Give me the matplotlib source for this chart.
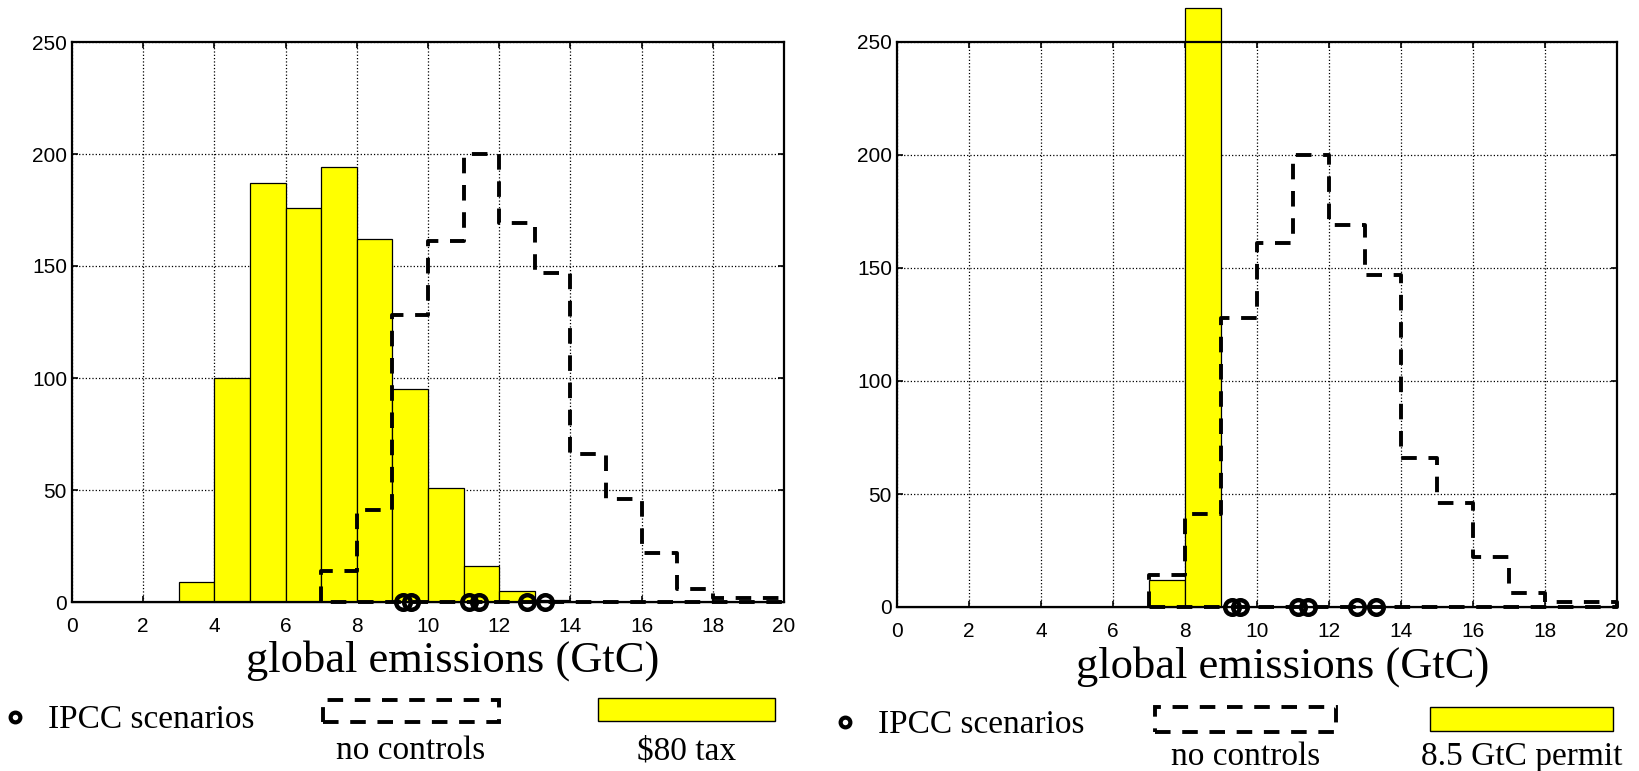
import numpy as np
import matplotlib
matplotlib.use("Agg")
import matplotlib.pyplot as plt
from matplotlib.lines import Line2D
from matplotlib.patches import Rectangle

# Histogram bin edges (GtC), one-unit bins
edges = np.arange(0, 21)

# Counts per bin under a $80 carbon tax
tax_counts = [0, 0, 0, 9, 100, 187, 176, 194, 162, 95, 51, 16, 5, 1, 0, 0, 0, 0, 0, 0]

# Counts per bin under an 8.5 GtC emissions permit
permit_counts = [0, 0, 0, 0, 0, 0, 0, 12, 265, 0, 0, 0, 0, 0, 0, 0, 0, 0, 0, 0]

# Counts per bin with no controls (bins 7..20)
nc_edges = np.arange(7, 21)
nc_counts = [14, 41, 128, 161, 200, 169, 147, 66, 46, 22, 6, 2, 2]

# IPCC scenario emissions (GtC)
ipcc = [9.3, 9.52, 11.15, 11.43, 12.77, 13.3]

W, H = 1639, 771
fig = plt.figure(figsize=(W / 100, H / 100), dpi=100)

SANS = "Liberation Sans"
SERIF = "Liberation Serif"
DASH = (0, (4, 3.0))


def fx(x):
    return x / W


def fy(y):
    return 1 - y / H


def panel(rect, counts, label_y):
    ax = fig.add_axes(rect)
    ax.set_xlim(0, 20)
    ax.set_ylim(0, 250)
    ax.set_axisbelow(True)
    ax.grid(True, color="black", linestyle=":", linewidth=0.9)
    ax.set_xticks(np.arange(0, 21, 2))
    ax.set_yticks(np.arange(0, 251, 50))
    ax.tick_params(axis="both", direction="in", length=4, width=1.2,
                   top=True, right=True, labelsize=15)
    ax.tick_params(axis="x", pad=10.5)
    ax.tick_params(axis="y", pad=3.6)
    for lab in ax.get_xticklabels() + ax.get_yticklabels():
        lab.set_fontfamily(SANS)
    for sp in ax.spines.values():
        sp.set_linewidth(1.6)
        sp.set_zorder(5)

    # filled bars of the controlled case
    ax.bar(edges[:-1], counts, width=1, align="edge", color="#ffff00",
           edgecolor="black", linewidth=0.9, zorder=2, clip_on=False)

    # dashed outline of the uncontrolled histogram, closed along the base
    xs = np.repeat(nc_edges, 2)
    ys = np.concatenate([[0], np.repeat(nc_counts, 2), [0]])
    xs = np.concatenate([xs, [nc_edges[0]]])
    ys = np.concatenate([ys, [0]])
    ax.plot(xs, ys, color="black", linestyle=DASH, linewidth=2.8, zorder=3,
            clip_on=False)

    # IPCC scenarios on the baseline
    ax.plot(ipcc, np.zeros(len(ipcc)), linestyle="none", marker="o",
            markersize=10.5, markerfacecolor="none", markeredgecolor="black",
            markeredgewidth=3.2, zorder=6, clip_on=False)

    ax.set_xlabel("global emissions (GtC)", fontfamily=SERIF, fontsize=32,
                  va="baseline")
    ax.xaxis.set_label_coords(0.535, label_y)
    return ax


axL = panel([72 / W, (H - 602) / H, 712 / W, 560 / H], tax_counts, -0.125)
axR = panel([897 / W, (H - 607) / H, 720 / W, 565 / H], permit_counts, -0.124)


def legend(circ, txt_base, dash_box, dash_base, fill_box, fill_base, fill_label):
    cx, cy = circ
    fig.add_artist(Line2D([fx(cx)], [fy(cy)], marker="o", markersize=7,
                          markerfacecolor="none", markeredgecolor="black",
                          markeredgewidth=3.0, linestyle="none"))
    fig.text(fx(cx + 33), fy(txt_base), "IPCC scenarios", fontfamily=SERIF,
             fontsize=24, ha="left", va="baseline")
    x0, y0, x1, y1 = dash_box
    fig.add_artist(Rectangle((fx(x0), fy(y1)), fx(x1) - fx(x0), fy(y0) - fy(y1),
                             facecolor="none", edgecolor="black",
                             linestyle=DASH, linewidth=2.8))
    fig.text(fx((x0 + x1) / 2), fy(dash_base), "no controls", fontfamily=SERIF,
             fontsize=24, ha="center", va="baseline")
    x0, y0, x1, y1 = fill_box
    fig.add_artist(Rectangle((fx(x0), fy(y1)), fx(x1) - fx(x0), fy(y0) - fy(y1),
                             facecolor="#ffff00", edgecolor="black",
                             linewidth=1.0))
    fig.text(fx((x0 + x1) / 2), fy(fill_base), fill_label, fontfamily=SERIF,
             fontsize=24, ha="center", va="baseline")


legend((15, 717), 728, (323, 700, 499, 722), 759, (598, 698, 775, 721), 759,
       "$80 tax")
legend((845, 722), 733, (1155, 707, 1336, 732), 765, (1430, 707, 1613, 731), 765,
       "8.5 GtC permit")

fig.savefig("out.png", dpi=100)
